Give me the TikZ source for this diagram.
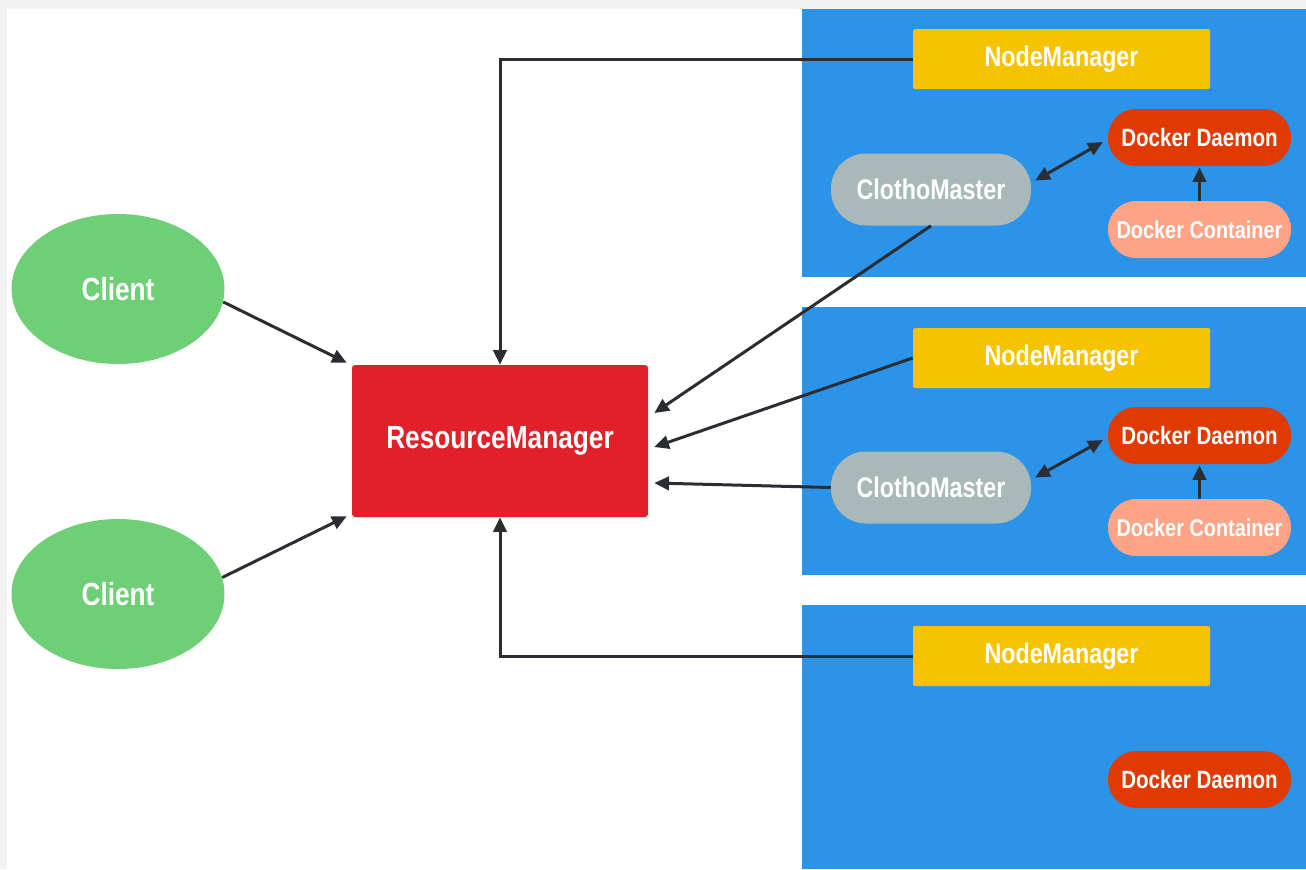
\documentclass[tikz,border=0pt]{standalone}
\usepackage{fontspec}
\newfontfamily\lab{Liberation Sans}[FakeStretch=0.82]
\usetikzlibrary{arrows.meta,calc,shapes.geometric}
\definecolor{bggray}{HTML}{F2F2F2}
\definecolor{panelblue}{HTML}{2B93E8}
\definecolor{nmyellow}{HTML}{F7C200}
\definecolor{rmred}{HTML}{E2202A}
\definecolor{clientgreen}{HTML}{6FCF76}
\definecolor{cmgray}{HTML}{A9B8B8}
\definecolor{ddred}{HTML}{E03A00}
\definecolor{dcsalmon}{HTML}{FFA487}
\definecolor{arrowdark}{HTML}{2A2E33}
\newdimen\pxu \pxu=0.75pt
\begin{document}
\begin{tikzpicture}[x=0.75pt,y=-0.75pt,
  lbl/.style={text=white,font=\lab\bfseries},
  nmbox/.style={lbl,fill=nmyellow,rounded corners=2\pxu,minimum width=297\pxu,minimum height=60\pxu,inner sep=0pt,font=\lab\bfseries\fontsize{21.3}{22}\selectfont},
  ddbox/.style={lbl,fill=ddred,rounded corners=28\pxu,minimum width=183\pxu,minimum height=57\pxu,inner sep=0pt,font=\lab\bfseries\fontsize{18.8}{20}\selectfont},
  dcbox/.style={lbl,fill=dcsalmon,rounded corners=28\pxu,minimum width=183\pxu,minimum height=57\pxu,inner sep=0pt,font=\lab\bfseries\fontsize{18.2}{20}\selectfont},
  cmbox/.style={lbl,fill=cmgray,rounded corners=35\pxu,minimum width=200\pxu,minimum height=72\pxu,inner sep=0pt,font=\lab\bfseries\fontsize{21.3}{22}\selectfont},
  rmbox/.style={lbl,fill=rmred,rounded corners=3\pxu,minimum width=296\pxu,minimum height=152\pxu,inner sep=0pt,font=\lab\bfseries\fontsize{24}{26}\selectfont},
  clientnode/.style={lbl,ellipse,fill=clientgreen,minimum width=213\pxu,minimum height=150\pxu,inner sep=0pt,font=\lab\bfseries\fontsize{24}{26}\selectfont},
  arr/.style={draw=arrowdark,line width=2.25pt,-{Triangle[length=11pt,width=10pt]}},
  darr/.style={draw=arrowdark,line width=2.25pt,{Triangle[length=11pt,width=10pt]}-{Triangle[length=11pt,width=10pt]}}
]
\fill[bggray] (0,0) rectangle (1306,869);
\fill[white] (7,9) rectangle (1306,869);
\useasboundingbox (0,0) rectangle (1306,869);
% panels
\fill[panelblue] (802,9) rectangle (1306,277);
\fill[panelblue] (802,307) rectangle (1306,575);
\fill[panelblue] (802,605) rectangle (1306,869);
% nodes
\node[nmbox] (NM1) at (1061.5,59) {NodeManager};
\node[nmbox] (NM2) at (1061.5,358) {NodeManager};
\node[nmbox] (NM3) at (1061.5,656) {NodeManager};
\node[ddbox] (DD1) at (1199.5,137.5) {Docker Daemon};
\node[ddbox] (DD2) at (1199.5,435.5) {Docker Daemon};
\node[ddbox] (DD3) at (1199.5,779.5) {Docker Daemon};
\node[dcbox] (DC1) at (1199.5,229.5) {Docker Container};
\node[dcbox] (DC2) at (1199.5,527.5) {Docker Container};
\node[cmbox] (CM1) at (931,189.5) {ClothoMaster};
\node[cmbox] (CM2) at (931,487.5) {ClothoMaster};
\node[rmbox] (RM) at (500,441) {ResourceManager};
\node[clientnode] (C1) at (118,289) {Client};
\node[clientnode] (C2) at (118,594) {Client};
% connectors
\draw[arr] (NM1.west) -| (RM.north);
\draw[arr] (NM3.west) -| (RM.south);
\draw[arr] (CM1.south) -- ($(RM.east)+(6,-28)$);
\draw[arr] (NM2.west) -- ($(RM.east)+(6,6)$);
\draw[arr] (CM2.west) -- ($(RM.east)+(6,42)$);
\draw[arr] (C1.-7) -- ($(RM.north west)+(-5,-2)$);
\draw[arr] (C2.9) -- ($(RM.south west)+(-5,-1)$);
\draw[darr] ($(CM1.east)+(4,-9)$) -- ($(DD1.west)+(-5,4.5)$);
\draw[darr] ($(CM2.east)+(4,-10)$) -- ($(DD2.west)+(-5,4.5)$);
\draw[arr] (DC1.north) -- ($(DD1.south)+(0,1)$);
\draw[arr] (DC2.north) -- ($(DD2.south)+(0,1)$);
\end{tikzpicture}
\end{document}
